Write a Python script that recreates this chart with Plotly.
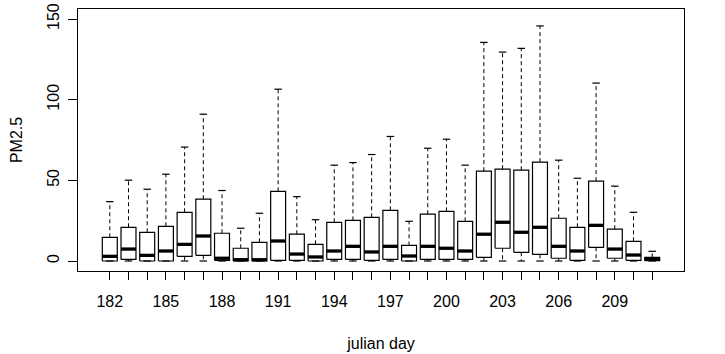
import plotly.graph_objects as go

days = list(range(182, 212))
whisker_hi = [36.8, 50.1, 44.5, 53.8, 70.6, 91.0, 43.7, 20.3, 29.6, 106.5,
              39.9, 25.6, 59.4, 61.0, 66.0, 77.2, 24.6, 69.9, 75.5, 59.4,
              135.5, 129.5, 131.8, 145.7, 62.5, 51.3, 110.3, 46.4, 30.2, 6.0]
q3 = [14.7, 20.9, 17.8, 21.5, 30.2, 38.3, 17.2, 7.9, 11.6, 43.2,
      16.6, 10.3, 24.0, 25.2, 27.1, 31.4, 9.7, 29.0, 30.8, 24.6,
      55.7, 56.9, 56.3, 61.3, 26.5, 20.9, 49.5, 19.7, 12.2, 2.3]
median = [2.9, 7.4, 3.5, 6.2, 10.3, 15.5, 1.7, 0.8, 0.8, 12.4,
          4.3, 2.5, 6.2, 9.1, 5.6, 9.1, 3.1, 9.1, 7.9, 6.2,
          16.6, 24.0, 17.8, 20.9, 9.1, 6.2, 22.1, 7.4, 3.7, 1.0]
q1 = [0.0, 1.0, 0.0, 0.0, 2.9, 3.5, 0.4, 0.0, 0.0, 0.4,
      0.4, 0.0, 1.0, 1.0, 0.4, 1.0, 0.0, 1.0, 1.0, 1.0,
      2.3, 7.9, 5.4, 4.1, 1.7, 0.4, 8.5, 1.7, 0.4, 0.2]
whisker_lo = [0.0] * 30
label_days = list(range(182, 210, 3))

BW = 0.4   # half box width (data units)
CW = 0.2   # half staple width

bx, by, wx, wy, cx, cy, mx, my = [], [], [], [], [], [], [], []
for d, lo, a, m, b, hi in zip(days, whisker_lo, q1, median, q3, whisker_hi):
    bx += [d - BW, d + BW, d + BW, d - BW, d - BW, None]
    by += [a, a, b, b, a, None]
    wx += [d, d, None, d, d, None]
    wy += [b, hi, None, a, lo, None]
    cx += [d - CW, d + CW, None, d - CW, d + CW, None]
    cy += [hi, hi, None, lo, lo, None]
    mx += [d - BW, d + BW, None]
    my += [m, m, None]

fig = go.Figure()
fig.add_trace(go.Scatter(x=wx, y=wy, mode="lines",
                         line=dict(color="black", width=1, dash="4px,3px"),
                         hoverinfo="skip"))
fig.add_trace(go.Scatter(x=cx, y=cy, mode="lines",
                         line=dict(color="black", width=1.2), hoverinfo="skip"))
fig.add_trace(go.Scatter(x=bx, y=by, mode="lines",
                         line=dict(color="black", width=1.2), hoverinfo="skip"))
fig.add_trace(go.Scatter(x=mx, y=my, mode="lines",
                         line=dict(color="black", width=3.3), hoverinfo="skip"))

fig.update_layout(
    width=725, height=354,
    margin=dict(l=78, r=41, t=9, b=83),
    paper_bgcolor="white", plot_bgcolor="white",
    showlegend=False,
    font=dict(family="Liberation Sans, Arial, sans-serif", size=16, color="black"),
)
fig.update_xaxes(
    range=[180.3, 212.7],
    tickvals=days,
    ticktext=[str(d) if d in label_days else "" for d in days],
    ticks="outside", ticklen=8, tickwidth=1, tickcolor="black",
    showline=True, linecolor="black", linewidth=1, mirror=True,
    showgrid=False, zeroline=False, automargin=False,
    ticklabelstandoff=8,
    title=dict(text="julian day", standoff=28, font=dict(size=16)),
)
fig.update_yaxes(
    range=[-6.2, 156.2],
    tickvals=[0, 50, 100, 150],
    ticks="outside", ticklen=9, tickwidth=1, tickcolor="black",
    tickangle=-90,
    showline=True, linecolor="black", linewidth=1, mirror=True,
    showgrid=False, zeroline=False, automargin=False,
    ticklabelstandoff=3,
    title=dict(text="PM2.5", standoff=17, font=dict(size=16)),
)
fig.write_html("out.html")
